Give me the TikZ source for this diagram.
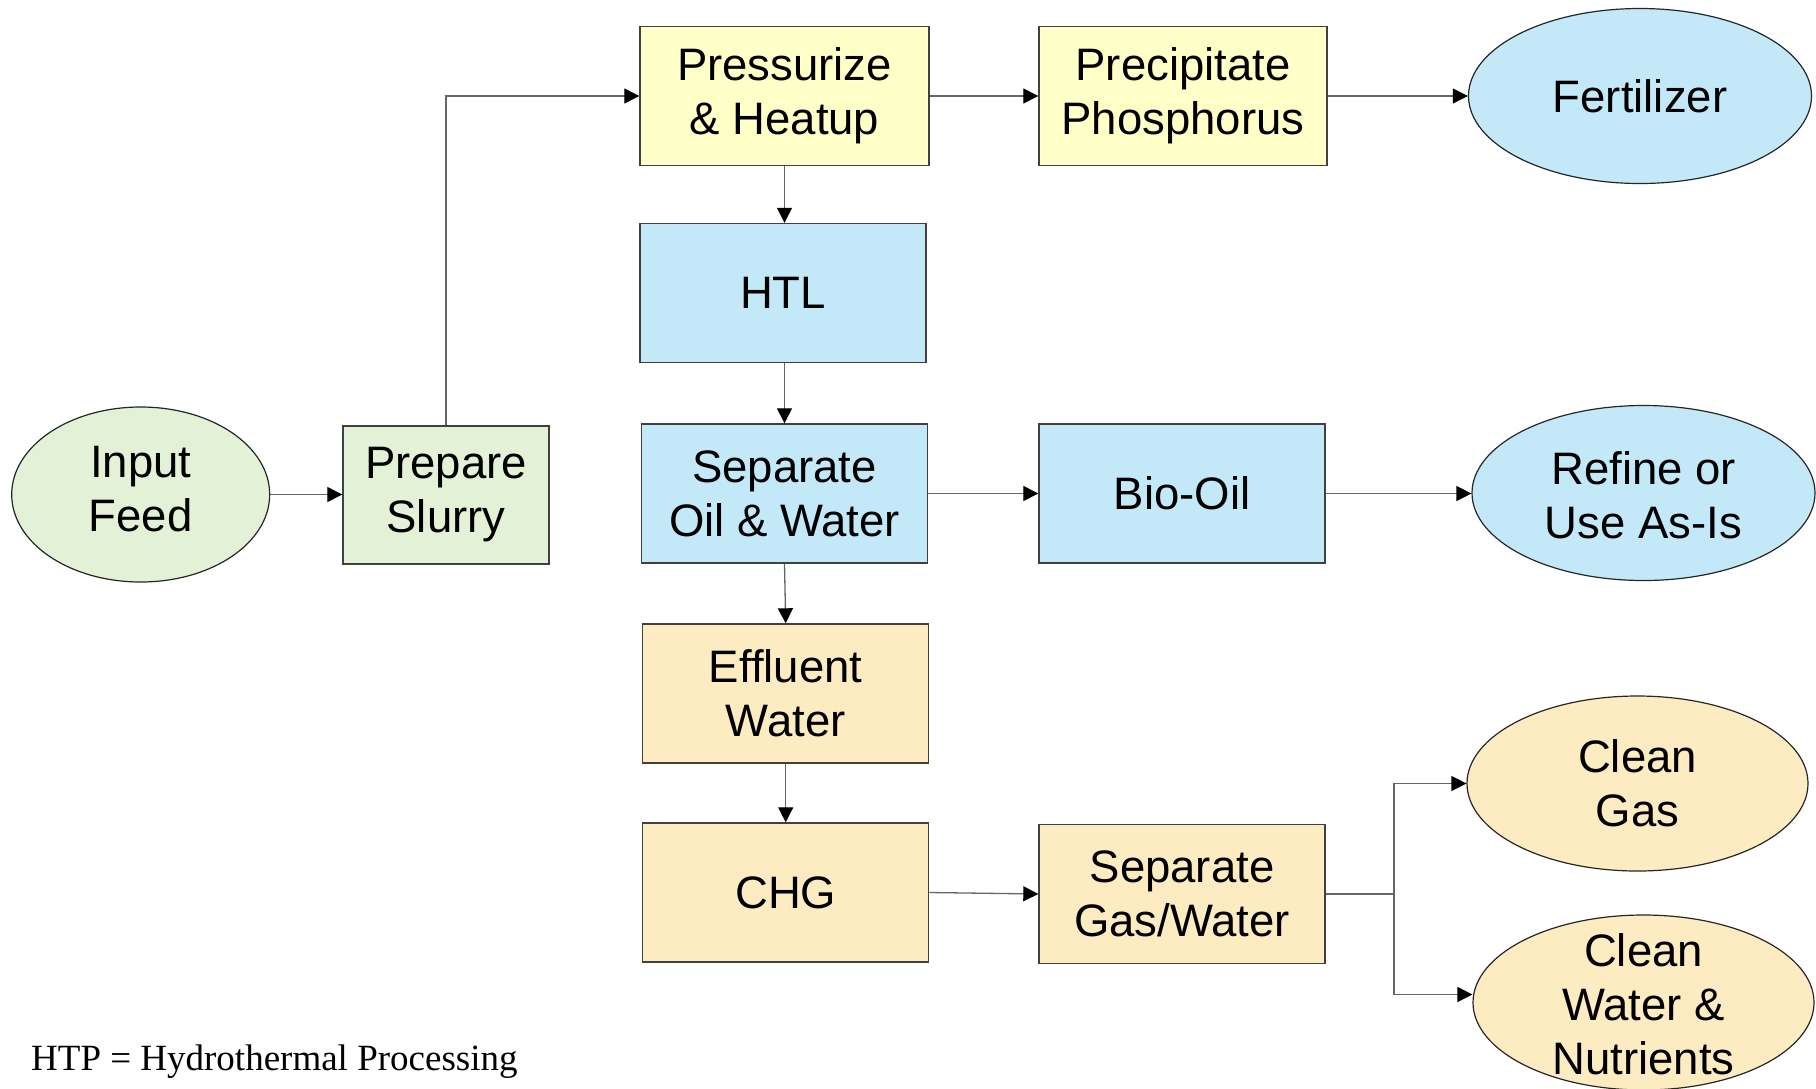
\documentclass[tikz,border=0pt]{standalone}
\usepackage{fontspec}
\setmainfont{Liberation Sans}
\newfontfamily\captionserif{Liberation Serif}
\usetikzlibrary{arrows.meta,shapes.geometric}
\definecolor{cyel}{HTML}{FFFFC8}
\definecolor{cblue}{HTML}{C3E9F9}
\definecolor{cgreen}{HTML}{E3F1D7}
\definecolor{ctan}{HTML}{FDEBC2}
\begin{document}
\begin{tikzpicture}[x=1pt,y=-1pt,
  box/.style={draw=black!75, line width=1.4pt, rectangle, minimum width=286pt, minimum height=139pt, inner sep=0pt, align=center, font=\fontsize{45.5}{54}\selectfont},
  oval/.style={draw=black!85, line width=1.2pt, ellipse, minimum width=343pt, minimum height=175pt, inner sep=0pt},
  otext/.style={inner sep=0pt, align=center, font=\fontsize{45.5}{54}\selectfont},
  conn/.style={draw=black!60, line width=1.3pt, -{Triangle[length=15pt,width=15pt,color=black]}},
  plainline/.style={draw=black!60, line width=1.3pt}]
\useasboundingbox (0,0) rectangle (1816,1088);
\fill[white] (0,0) rectangle (1816,1088);
% ellipses
\node[oval, fill=cgreen, minimum width=258pt] (inp) at (140.7,494.5) {};
\node[otext] (inpt) at (140.7,489) {Input\\Feed};
\node[oval, fill=cblue] (fert) at (1640,96) {};
\node[otext] (fertt) at (fert) {Fertilizer};
\node[oval, fill=cblue] (ref) at (1643.5,493) {};
\node[otext] (reft) at (1643.5,495) {Refine or\\Use As-Is};
\node[oval, fill=ctan, minimum width=341pt] (cg) at (1637.5,783.5) {};
\node[otext] (cgt) at (cg) {Clean\\Gas};
\node[oval, fill=ctan, minimum width=341pt] (cw) at (1643.5,1002.5) {};
\node[otext] (cwt) at (1643.5,1004) {Clean\\Water \&\\Nutrients};
% boxes
\node[box, fill=cgreen, minimum width=206pt, minimum height=138pt] (prep) at (446,495) {Prepare\\Slurry};
\node[box, fill=cyel, minimum width=289pt] (press) at (784.5,96) {Pressurize\\\& Heatup};
\node[box, fill=cyel, minimum width=288pt] (prec) at (1183,96) {Precipitate\\Phosphorus};
\node[box, fill=cblue] (htl) at (783,293) {HTL};
\node[box, fill=cblue] (sep) at (784.5,493.5) {Separate\\Oil \& Water};
\node[box, fill=cblue] (bio) at (1182,493.5) {Bio-Oil};
\node[box, fill=ctan] (eff) at (785.7,693.5) {Effluent\\Water};
\node[box, fill=ctan] (chg) at (785.7,892.5) {CHG};
\node[box, fill=ctan] (sgw) at (1182,894) {Separate\\Gas/Water};
\coordinate (jn) at (1394,894);
% connectors
\draw[conn] (inp.east) -- (prep.west |- inp.east);
\draw[conn] (prep.north) |- (press.west);
\draw[conn] (press.east) -- (prec.west);
\draw[conn] (prec.east) -- (fert.west);
\draw[conn] (press.south) -- (htl.north -| press.south);
\draw[conn] (htl.south -| sep.north) -- (sep.north);
\draw[conn] (sep.south) -- (eff.north);
\draw[conn] (eff.south) -- (chg.north);
\draw[conn] (sep.east) -- (bio.west);
\draw[conn] (bio.east) -- (ref.west |- bio.east);
\draw[conn] (chg.east) -- (sgw.west);
\draw[plainline] (sgw.east) -- (jn);
\draw[conn] (jn) |- (cg.west);
\draw[conn] (jn) |- ([yshift=8pt]cw.west);
% caption
\node[anchor=base west, inner sep=0pt, font=\captionserif\fontsize{37}{44}\selectfont] (cap) at (31,1070) {HTP = Hydrothermal Processing};
\end{tikzpicture}
\end{document}
